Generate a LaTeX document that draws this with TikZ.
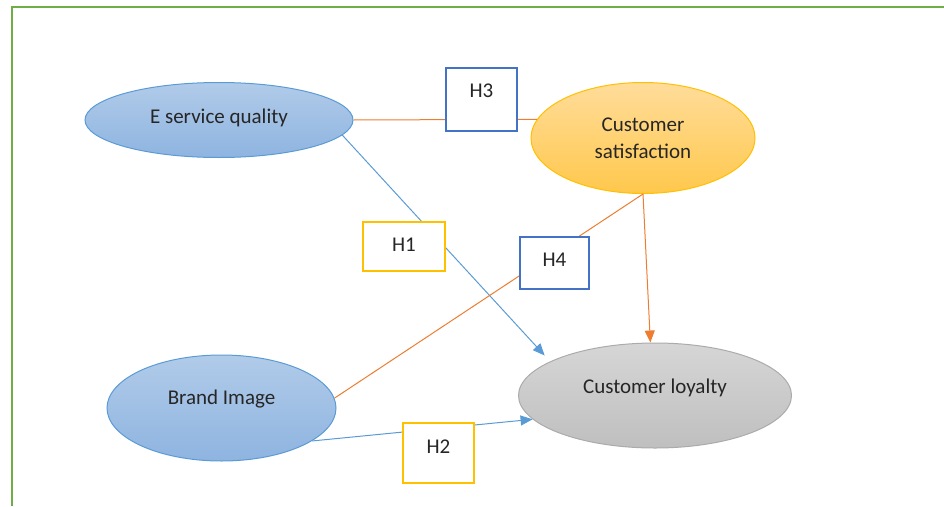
\documentclass[tikz,border=0pt]{standalone}
\usepackage{fontspec}
\setmainfont{Carlito}
\usetikzlibrary{arrows.meta,shapes.geometric}
\definecolor{cblue}{HTML}{5B9BD5}
\definecolor{cbluetop}{HTML}{B1CBE9}
\definecolor{cbluebot}{HTML}{8EB4E0}
\definecolor{corange}{HTML}{ED7D31}
\definecolor{cgold}{HTML}{FFC000}
\definecolor{cgoldtop}{HTML}{FFDC9A}
\definecolor{cgoldbot}{HTML}{FFC84C}
\definecolor{cgray}{HTML}{ABABAB}
\definecolor{cgraytop}{HTML}{D6D6D6}
\definecolor{cgraybot}{HTML}{BFBFBF}
\definecolor{chyp}{HTML}{4472C4}
\definecolor{cframe}{HTML}{70AD47}
\definecolor{ctext}{HTML}{262626}

\begin{document}
\begin{tikzpicture}[
    x=1pt, y=-1pt,
    construct/.style={ellipse, line width=1pt, inner sep=0pt, text=ctext,
        font=\fontsize{21}{24}\selectfont, align=center},
    bluecon/.style={construct, draw=cblue, top color=cbluetop, bottom color=cbluebot},
    satcon/.style={construct, draw=cgold, top color=cgoldtop, bottom color=cgoldbot},
    loycon/.style={construct, draw=cgray, top color=cgraytop, bottom color=cgraybot},
    hyp/.style={rectangle, fill=white, line width=2.2pt, inner sep=0pt, text=ctext,
        font=\fontsize{21}{24}\selectfont},
    hypblue/.style={hyp, draw=chyp}, hypgold/.style={hyp, draw=cgold},
    lift/.style={text height=13.6pt, text depth=#1},
    link/.style={line width=1pt},
    bluelink/.style={link, draw=cblue, -{Triangle[length=12pt, width=10pt]}},
    orangelink/.style={link, draw=corange},
]
\useasboundingbox (0,0) rectangle (944,506);
% frame
\draw[cframe, line width=2.8pt] (12,506) -- (12,7) -- (944,7);
% constructs
\node[bluecon, lift=7pt, minimum width=268pt, minimum height=75pt] (esq) at (219,120) {E service quality};
\node[satcon, minimum width=224pt, minimum height=111pt] (sat) at (643,138) {Customer\\[3pt]satisfaction};
\node[loycon, lift=18pt, minimum width=273pt, minimum height=105pt] (loy) at (655,395.5) {Customer loyalty};
\node[bluecon, lift=20pt, minimum width=229pt, minimum height=106pt] (brand) at (221.5,408) {Brand Image};
% paths
\draw[orangelink] (esq.east) -- (sat.170);
\draw[bluelink, shorten >=8pt] (esq.-7) -- (loy.162);
\draw[orangelink] (brand.5) -- (sat.south);
\draw[bluelink] (brand.-20) -- (loy.191);
\draw[orangelink, -{Triangle[length=12pt, width=10pt]}] (sat.south) -- (loy.95);
% hypotheses
\node[hypblue, lift=17pt, minimum width=71pt, minimum height=63pt] (hthree) at (481.5,99.5) {H3};
\node[hypgold, lift=4pt, minimum width=82pt, minimum height=49pt] (hone) at (404,246.5) {H1};
\node[hypblue, lift=6pt, minimum width=69pt, minimum height=52pt] (hfour) at (554.5,263) {H4};
\node[hypgold, lift=12pt, minimum width=71pt, minimum height=60pt] (htwo) at (438.5,453) {H2};
\end{tikzpicture}
\end{document}
